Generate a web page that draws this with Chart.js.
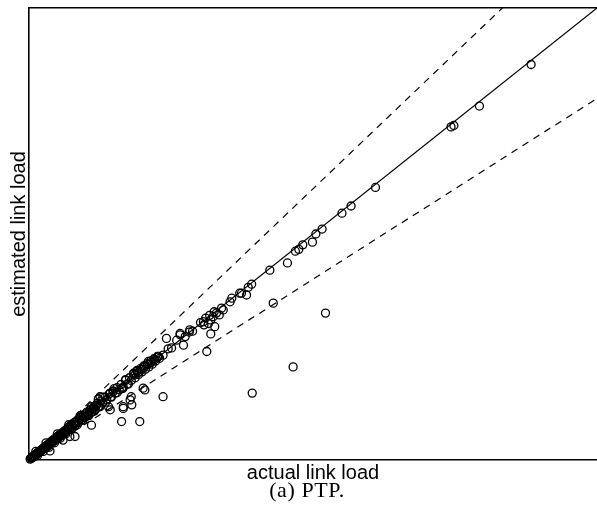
<!DOCTYPE html>
<html><head><meta charset="utf-8">
<script src="https://cdn.jsdelivr.net/npm/chart.js@4.4.1/dist/chart.umd.min.js"></script>
<style>
html,body{margin:0;padding:0;background:#fff;overflow:hidden;}
#wrap{position:relative;width:597px;height:515px;}
#c{display:block;width:597px;height:515px;}
#caption{position:absolute;left:307px;top:479px;transform:translateX(-50%);font-family:"Liberation Serif","Times New Roman",serif;font-size:22px;line-height:22px;letter-spacing:0.6px;white-space:nowrap;color:#000;}
</style></head><body>
<div id="wrap"><canvas id="c" width="597" height="515"></canvas><div id="caption"></div></div>
<script>
// ---- data (normalised 0..1) ----
const actual = [
 0.002,0.004,0.006,0.008,0.010,0.011,0.013,0.015,0.017,0.019,
 0.020,0.022,0.024,0.026,0.028,0.030,0.032,0.034,0.036,0.038,
 0.040,0.042,0.044,0.046,0.048,0.050,0.052,0.055,0.057,0.060,
 0.062,0.065,0.067,0.070,0.072,0.075,0.077,0.080,0.082,0.085,
 0.088,0.090,0.093,0.096,0.099,0.102,0.105,0.108,0.111,0.114,
 0.117,0.120,0.123,0.127,0.130,0.134,0.137,0.141,0.144,0.148,
 0.152,0.155,0.159,0.162,0.166,0.170,0.173,0.177,0.180,0.184,
 0.187,0.190,0.193,0.196,0.199,0.202,0.205,0.208,0.211,0.214,
 0.217,0.220,0.223,0.226,0.230,
 0.003,0.005,0.007,0.009,0.012,0.014,0.016,0.018,0.021,0.023,
 0.025,0.027,0.029,0.031,0.033,0.035,0.037,0.039,0.041,0.043,
 0.045,0.047,0.049,0.051,0.053,0.056,0.058,0.061,0.063,0.066,
 0.068,0.071,0.074,0.076,0.079,0.081,0.084,0.087,0.089,0.092,
 0.095,0.098,0.101,0.104,0.107,0.110,0.113,0.116,0.119,0.122,
 0.186,0.192,0.198,0.203,0.209,0.215,0.221,0.227,
 0.302,0.311,0.318,0.326,
 0.015,0.025,0.035,0.045,0.055,0.065,0.075,0.085,0.095,0.105,
 0.115,0.125,0.135,0.145,0.155,0.165,0.175,0.012,0.030,0.050,
 0.070,0.090,0.110,0.130,0.150,0.170,0.190,0.210,
 0.037,0.060,0.072,0.081,0.110,0.122,0.125,0.143,0.140,0.143,
 0.148,0.163,0.163,0.195,0.166,0.166,0.178,0.181,0.180,0.184,
 0.201,0.204,0.236,
 0.228,0.236,0.242,0.245,0.251,0.260,0.266,0.266,0.272,0.275,
 0.282,0.283,0.288,0.307,0.308,0.313,0.316,0.320,0.320,0.324,
 0.327,0.330,0.335,0.339,0.342,0.354,0.357,0.371,0.374,0.383,
 0.386,0.392,0.393,0.424,0.430,0.455,0.465,0.469,0.475,0.482,
 0.499,0.505,0.516,0.522,0.551,0.567,0.610,0.743,0.748,0.793,
 0.884
];
const estimated = [
 0.002,0.005,0.006,0.009,0.008,0.012,0.013,0.016,0.016,0.020,
 0.018,0.023,0.024,0.027,0.026,0.031,0.030,0.035,0.034,0.040,
 0.038,0.044,0.042,0.048,0.045,0.052,0.049,0.057,0.054,0.062,
 0.058,0.067,0.064,0.073,0.068,0.078,0.073,0.083,0.078,0.088,
 0.084,0.094,0.089,0.100,0.095,0.106,0.101,0.112,0.107,0.118,
 0.113,0.125,0.119,0.131,0.126,0.139,0.133,0.146,0.140,0.153,
 0.148,0.160,0.155,0.167,0.161,0.176,0.168,0.182,0.176,0.190,
 0.182,0.196,0.189,0.202,0.195,0.208,0.201,0.213,0.206,0.219,
 0.212,0.224,0.219,0.229,0.225,
 0.004,0.004,0.008,0.008,0.011,0.015,0.015,0.019,0.020,0.022,
 0.026,0.025,0.030,0.029,0.034,0.033,0.038,0.037,0.042,0.041,
 0.046,0.045,0.050,0.049,0.055,0.054,0.059,0.058,0.064,0.063,
 0.069,0.068,0.075,0.072,0.080,0.077,0.086,0.083,0.091,0.088,
 0.097,0.094,0.103,0.099,0.109,0.105,0.115,0.111,0.121,0.117,
 0.188,0.193,0.200,0.206,0.211,0.216,0.222,0.228,
 0.304,0.314,0.320,0.328,
 0.010,0.019,0.028,0.038,0.048,0.058,0.068,0.078,0.088,0.098,
 0.108,0.118,0.128,0.139,0.149,0.158,0.168,0.019,0.038,0.058,
 0.078,0.098,0.118,0.139,0.158,0.178,0.198,0.218,
 0.020,0.044,0.052,0.052,0.077,0.135,0.140,0.148,0.118,0.111,
 0.151,0.159,0.085,0.085,0.114,0.118,0.133,0.122,0.140,0.192,
 0.159,0.155,0.140,
 0.229,0.232,0.269,0.246,0.248,0.265,0.277,0.280,0.254,0.273,
 0.283,0.288,0.285,0.306,0.299,0.240,0.302,0.310,0.279,0.317,
 0.295,0.325,0.321,0.336,0.332,0.350,0.358,0.369,0.369,0.365,
 0.382,0.389,0.148,0.420,0.347,0.436,0.206,0.462,0.466,0.476,
 0.482,0.500,0.511,0.325,0.546,0.562,0.603,0.737,0.740,0.783,
 0.875
];
const refSlopes = [1, 1.2, 0.8];      // y = x and the +/-20% bounds
const axisRange = [0, 1];
const xTitle = "actual link load";
const yTitle = "estimated link load";
const captionText = "(a) PTP.";

document.getElementById('caption').textContent = captionText;

const pts = actual.map((x, i) => ({x: x, y: estimated[i]}));
const refSets = refSlopes.map(s => ({
  type: 'scatter',
  data: axisRange.map(x => ({x: x, y: s * x})),
  showLine: true,
  pointRadius: 0,
  borderColor: '#000',
  borderWidth: 1.2,
  borderDash: s === 1 ? [] : [7, 6],
  fill: false
}));

const titleFont = {family: '"Liberation Sans", Arial, Helvetica, sans-serif', size: 20, lineHeight: 1.2};

new Chart(document.getElementById('c'), {
  type: 'scatter',
  data: {
    datasets: [
      {
        data: pts,
        pointStyle: 'circle',
        pointRadius: 4,
        pointBorderWidth: 1.3,
        pointBackgroundColor: 'rgba(0,0,0,0)',
        pointBorderColor: '#000',
        showLine: false,
        clip: 6
      },
      ...refSets
    ]
  },
  options: {
    responsive: false,
    animation: false,
    events: [],
    layout: {autoPadding: false, padding: {top: 8, right: 0, left: 0, bottom: 28}},
    plugins: {legend: {display: false}, tooltip: {enabled: false}, title: {display: false}},
    scales: {
      x: {
        type: 'linear', position: 'bottom', min: axisRange[0], max: axisRange[1],
        ticks: {display: false},
        grid: {display: false, drawTicks: false},
        border: {display: true, color: '#000', width: 1.6},
        title: {display: true, text: xTitle, color: '#000', font: titleFont, padding: {top: 3, bottom: 2}},
        afterFit: s => { s.height = 27; }
      },
      x2: {
        type: 'linear', position: 'top', min: axisRange[0], max: axisRange[1],
        ticks: {display: false},
        grid: {display: false, drawTicks: false},
        border: {display: true, color: '#000', width: 1.6},
        afterFit: s => { s.height = 0; }
      },
      y: {
        type: 'linear', position: 'left', min: axisRange[0], max: axisRange[1],
        ticks: {display: false},
        grid: {display: false, drawTicks: false},
        border: {display: true, color: '#000', width: 1.6},
        title: {display: true, text: yTitle, color: '#000', font: titleFont, padding: {top: 7, bottom: 0}},
        afterFit: s => { s.width = 29; }
      }
    }
  }
});
</script>
</body></html>
